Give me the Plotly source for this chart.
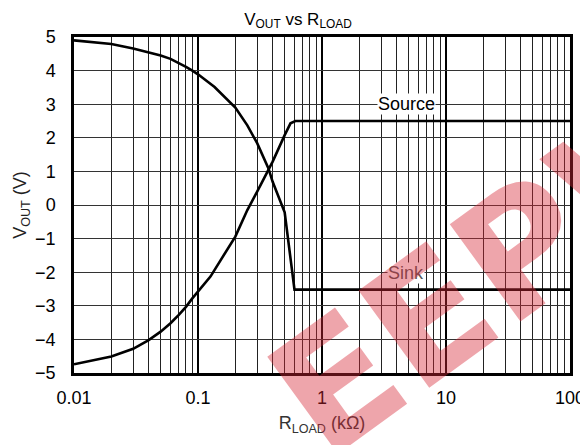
import numpy as np
import plotly.graph_objects as go

# R_LOAD in kOhm, V_OUT in V
r_source = [0.01, 0.02, 0.03, 0.04, 0.05, 0.06, 0.07, 0.08, 0.09, 0.1, 0.126, 0.2, 0.25, 0.3,
            0.37, 0.4, 0.5, 0.557, 0.61, 100]
v_source = [-4.74, -4.51, -4.28, -4.02, -3.77, -3.52, -3.27, -3.03, -2.78, -2.57, -2.13, -0.94, -0.15, 0.40,
            1.04, 1.29, 2.08, 2.43, 2.5, 2.5]

r_sink = [0.01, 0.02, 0.03, 0.04, 0.05, 0.06, 0.07, 0.08, 0.09, 0.1, 0.136, 0.172, 0.2, 0.25, 0.3,
          0.37, 0.4, 0.5, 0.6, 100]
v_sink = [4.90, 4.79, 4.66, 4.55, 4.45, 4.35, 4.23, 4.11, 4.0, 3.89, 3.51, 3.12, 2.9, 2.37, 1.84,
          1.09, 0.69, -0.22, -2.52, -2.52]

x_ticks = [0.01, 0.1, 1, 10, 100]
x_tick_text = ["0.01", "0.1", "1", "10", "100"]
y_ticks = list(range(-5, 6))

FONT = "Liberation Sans, Arial, sans-serif"

fig = go.Figure()
fig.add_trace(go.Scatter(x=r_source, y=v_source, mode="lines",
                         line=dict(color="black", width=2.6), showlegend=False))
fig.add_trace(go.Scatter(x=r_sink, y=v_sink, mode="lines",
                         line=dict(color="black", width=2.6), showlegend=False))

fig.add_annotation(x=np.log10(4.8), y=3.0, text="Source", showarrow=False,
                   font=dict(family=FONT, size=18, color="black"),
                   bgcolor="white", borderpad=0)
fig.add_annotation(x=np.log10(4.8), y=-2.03, text="Sink", showarrow=False,
                   font=dict(family=FONT, size=18, color="#555555"),
                   bgcolor="white", borderpad=0)

# site watermark
fig.add_annotation(xref="paper", yref="paper", x=0.87, y=0.33, xanchor="center", yanchor="middle",
                   text="<b>EEPW</b>", showarrow=False, textangle=-36,
                   font=dict(family="DejaVu Sans, sans-serif", size=165,
                             color="rgba(214,40,55,0.42)"))

fig.update_layout(
    width=580, height=437,
    margin=dict(l=66, r=18, t=29, b=72),
    paper_bgcolor="white", plot_bgcolor="white",
    font=dict(family=FONT, size=18, color="black"),
    title=dict(text="V<sub>OUT</sub> vs R<sub>LOAD</sub>", x=0.5, xanchor="center",
               y=0.975, yanchor="middle", font=dict(family=FONT, size=17, color="black")),
)

fig.update_xaxes(
    type="log", range=[-2, 2], automargin=False,
    tickvals=x_ticks, ticktext=x_tick_text, ticks="", ticklabelstandoff=7,
    showgrid=True, gridcolor="black", gridwidth=2,
    minor=dict(dtick="D1", showgrid=True, gridcolor="#222222", gridwidth=1, ticks=""),
    showline=True, linecolor="black", linewidth=2.5, mirror=True,
    title=dict(text="R<sub>LOAD</sub> (kΩ)", font=dict(family=FONT, size=18, color="#333333"), standoff=10),
)
fig.update_yaxes(
    range=[-5, 5], tickvals=y_ticks, ticks="", ticklabelstandoff=12, automargin=False,
    showgrid=True, gridcolor="#333333", gridwidth=1.3, zeroline=False,
    showline=True, linecolor="black", linewidth=2.5, mirror=True,
    title=dict(text="V<sub>OUT</sub> (V)", font=dict(family=FONT, size=18, color="#222222"), standoff=4),
)

fig.write_html("out.html")
